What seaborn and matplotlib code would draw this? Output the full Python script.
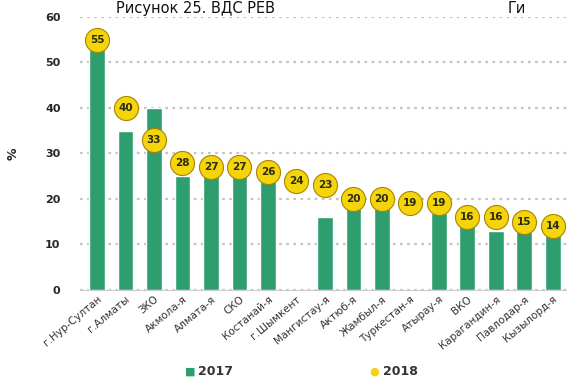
import numpy as np
import matplotlib
matplotlib.use("Agg")
import matplotlib.pyplot as plt
import seaborn as sns

# --- data ---
regions = [
    "г.Нур-Султан", "г.Алматы", "ЗКО", "Акмола-я", "Алмата-я", "СКО",
    "Костанай-я", "г.Шымкент", "Мангистау-я", "Актюб-я", "Жамбыл-я",
    "Туркестан-я", "Атырау-я", "ВКО", "Карагандин-я", "Павлодар-я",
    "Кызылорд-я",
]
vals_2017 = [54, 35, 40, 25, 26, 26, 24, np.nan, 16, 18, 18, np.nan, 17, 14, 13, 13, 12]
vals_2018 = [55, 40, 33, 28, 27, 27, 26, 24, 23, 20, 20, 19, 19, 16, 16, 15, 14]

GREEN = "#2e9e6f"
YELLOW = "#f4d40a"

sns.set_style("white")
plt.rcParams["font.family"] = ["DejaVu Sans"]

fig = plt.figure(figsize=(5.67, 3.85), dpi=100)
ax = fig.add_axes([0.141, 0.247, 0.859, 0.709])

pos = np.arange(len(regions))
sns.barplot(x=pos, y=vals_2017, color=GREEN, width=0.55, saturation=1,
            ax=ax, native_scale=True)
sns.scatterplot(x=pos, y=vals_2018, s=300, color=YELLOW, edgecolor="#a88400",
                linewidth=0.8, ax=ax, zorder=3, legend=False)
for i, v in enumerate(vals_2018):
    ax.text(i, v, str(v), ha="center", va="center", fontsize=7.5,
            fontweight="bold", color="#2b2b10", zorder=4)

ax.set_xlim(-0.6, len(regions) - 0.5)
ax.set_ylim(0, 60)
ax.set_yticks(range(0, 61, 10))
ax.yaxis.grid(True, linestyle=(0, (1.2, 2.0)), color="#c4c4c4", linewidth=1.6)
ax.set_axisbelow(True)
ax.set_xticks(pos)
ax.set_xticklabels(regions, rotation=40, ha="right", rotation_mode="anchor",
                   fontsize=7.5, color="#333333")
ax.tick_params(axis="y", labelsize=8, length=0, pad=14)
for lab in ax.get_yticklabels():
    lab.set_fontweight("bold")
ax.tick_params(axis="x", length=0, pad=3)
for s in ["top", "right", "left"]:
    ax.spines[s].set_visible(False)
ax.spines["bottom"].set_color("#cccccc")
ax.set_ylabel("%", fontsize=9, fontweight="bold", labelpad=18)
ax.set_xlabel("")

# legend at the bottom
fig.text(0.335, 0.035, "■", color=GREEN, fontsize=8, ha="center", va="center")
fig.text(0.35, 0.035, "2017", fontsize=9, fontweight="bold", color="#333333", va="center")
fig.text(0.66, 0.035, "●", color=YELLOW, fontsize=8, ha="center", va="center")
fig.text(0.675, 0.035, "2018", fontsize=9, fontweight="bold", color="#333333", va="center")

# caption at the top (clipped in the source, kept fully visible here)
fig.text(0.205, 0.998, "Рисунок 25. ВДС РЕВ", fontsize=10.5, va="top", color="#111111")
fig.text(0.895, 0.998, "Ги", fontsize=10.5, va="top", color="#111111")

fig.savefig("out.png", dpi=100)
